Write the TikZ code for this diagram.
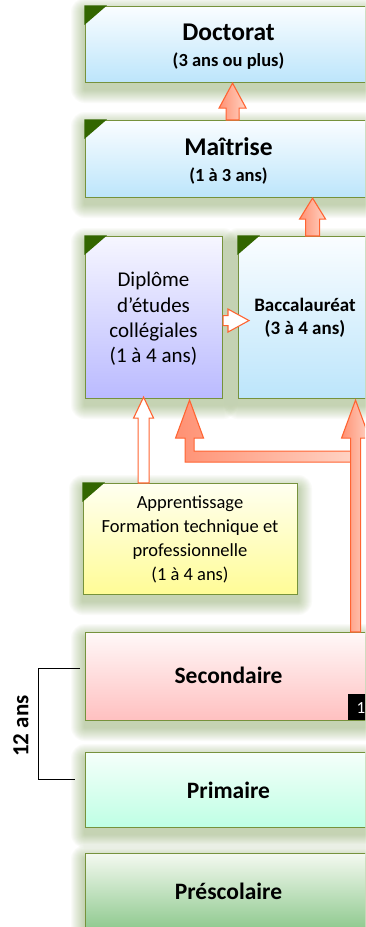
\documentclass[tikz,border=0pt]{standalone}
\usepackage{fontspec}
\setmainfont{Carlito}
\usetikzlibrary{calc}
\pgfdeclarelayer{bg}
\pgfsetlayers{bg,main}
\definecolor{bord}{RGB}{118,146,60}
\definecolor{cornerc}{RGB}{51,102,0}
\definecolor{shad}{RGB}{110,150,60}
\definecolor{aline}{RGB}{255,100,50}
\definecolor{afillA}{RGB}{255,145,115}
\definecolor{afillB}{RGB}{255,210,195}
\definecolor{blueT}{RGB}{250,253,255}
\definecolor{blueB}{RGB}{188,229,251}
\definecolor{lavT}{RGB}{246,246,255}
\definecolor{lavB}{RGB}{186,186,255}
\definecolor{yelT}{RGB}{255,255,240}
\definecolor{yelB}{RGB}{255,252,150}
\definecolor{pinkT}{RGB}{255,248,248}
\definecolor{pinkB}{RGB}{255,192,192}
\definecolor{mintT}{RGB}{245,255,250}
\definecolor{mintB}{RGB}{190,255,228}
\definecolor{grnT}{RGB}{244,249,240}
\definecolor{grnB}{RGB}{140,200,140}
\newcommand\blockup[6]{\draw[#1] let \p1=#2, \p2=#3 in
  (\x1,\y1) -- (\x1+#5pt,\y1-#6pt) -- (\x1+#4pt,\y1-#6pt) -- (\x1+#4pt,\y2)
  -- (\x1-#4pt,\y2) -- (\x1-#4pt,\y1-#6pt) -- (\x1-#5pt,\y1-#6pt) -- cycle;}
\begin{document}
\begin{tikzpicture}[x=1pt,y=-1pt,
  box/.style={draw=bord,line width=1.1pt,inner sep=0pt,anchor=north west},
  txt/.style={anchor=base,inner sep=0pt},
  oarrow/.style={draw=aline,line width=1.1pt,left color=afillA,right color=afillB},
  warrow/.style={draw=aline,line width=1.1pt,fill=white},
  fbig/.style={font=\fontsize{25.5}{30}\selectfont\bfseries},
  fsub/.style={font=\fontsize{18.5}{22}\selectfont\bfseries},
  flev/.style={font=\fontsize{23.5}{28}\selectfont\bfseries},
  fdip/.style={font=\fontsize{21}{25}\selectfont},
  fapp/.style={font=\fontsize{18.5}{22}\selectfont},
  fbac/.style={font=\fontsize{19}{23}\selectfont\bfseries}]
\useasboundingbox (0,0) rectangle (365,927);
\clip (0,0) rectangle (365,927);

% boxes
\node[box,top color=blueT,bottom color=blueB,minimum width=287pt,minimum height=76pt] (doc) at (85,6) {};
\node[box,top color=blueT,bottom color=blueB,minimum width=287pt,minimum height=77pt] (mai) at (85,120) {};
\node[box,top color=lavT,bottom color=lavB,minimum width=137pt,minimum height=162pt] (dip) at (85,236) {};
\node[box,top color=blueT,bottom color=blueB,minimum width=134pt,minimum height=162pt] (bac) at (238,236) {};
\node[box,top color=yelT,bottom color=yelB,minimum width=214pt,minimum height=111pt] (app) at (83,483) {};
\node[box,top color=pinkT,bottom color=pinkB,minimum width=287pt,minimum height=88pt] (sec) at (85,632) {};
\node[box,top color=mintT,bottom color=mintB,minimum width=287pt,minimum height=75pt] (pri) at (85,752) {};
\node[box,top color=grnT,bottom color=grnB,minimum width=287pt,minimum height=78pt] (pre) at (85,853) {};

% background and shadows
\begin{pgfonlayer}{bg}
\fill[white] (0,0) rectangle (365,927);
\foreach \n in {doc,mai,dip,bac,app,sec,pri,pre}{
  \foreach \k in {1,...,14}{
    \fill[shad,opacity=0.032,rounded corners=\k pt] ($(\n.north west)+(-\k,6-\k)$) rectangle ($(\n.south east)+(\k,6+\k)$);
  }}
\end{pgfonlayer}

% corner marks
\foreach \n in {doc,mai,dip,bac,app}{
  \fill[cornerc] ($(\n.north west)+(-0.55,-0.55)$) -- ++(22.5,0) -- ++(-22.5,19.5) -- cycle;}

% texts
\node[txt,fbig] (docT) at (228.5,40.7) {Doctorat};
\node[txt,fsub] (docS) at (228.5,66.7) {(3 ans ou plus)};
\node[txt,fbig] (maiT) at (228.5,155) {Maîtrise};
\node[txt,fsub] (maiS) at (228.5,181.7) {(1 à 3 ans)};
\foreach \t [count=\i] in {Diplôme,d’études,collégiales,(1 à 4 ans)}
  \node[txt,fdip] (dip\i) at (153.5,286.7+25.4*\i-25.4) {\t};
\node[txt,fbac] (bacT) at (305,311.7) {Baccalauréat};
\node[txt,fbac] (bacS) at (305,334.3) {(3 à 4 ans)};
\foreach \t [count=\i] in {Apprentissage,Formation technique et,professionnelle,(1 à 4 ans)}
  \node[txt,fapp] (app\i) at (190,508.3+23.9*\i-23.9) {\t};
\node[txt,flev] (secT) at (228.5,683.3) {Secondaire};
\node[txt,flev] (priT) at (228.5,798.3) {Primaire};
\node[txt,flev] (preT) at (228.5,899) {Préscolaire};

% page number box
\node[fill=black,anchor=north west,minimum width=30pt,minimum height=26pt,inner sep=0pt] (pg) at (348,694) {};
\node[txt,text=white,font=\fontsize{17}{20}\selectfont] (pgT) at (361,713) {1};

% bracket and label
\coordinate (bt) at ($(sec.west)+(-5,-8)$);
\coordinate (bb) at ($(pri.west)+(-10,-10.5)$);
\draw[line width=1pt] (bt) -- (bt -| 38,0) -- (bb -| 38,0) -- (bb);
\node[rotate=90,inner sep=0pt,font=\fontsize{23}{27}\selectfont\bfseries] (twelve) at (21,726) {12 ans};

% arrows
\blockup{oarrow}{($(doc.south)+(3.5,0)$)}{(mai.north)}{6.5}{13.5}{25}
\blockup{oarrow}{($(mai.south)+(83.5,0)$)}{(bac.north)}{7}{13}{21}
\blockup{warrow}{($(dip.south)+(-10.5,-2)$)}{(app.north)}{5.5}{10}{21}
\draw[warrow] let \p1=($(bac.west)+(11,3)$), \p2=(dip.east) in
  (\x1,\y1) -- (\x1-21pt,\y1+11.5pt) -- (\x1-21pt,\y1+5pt) -- (\x2,\y1+5pt)
  -- (\x2,\y1-5pt) -- (\x1-21pt,\y1-5pt) -- (\x1-21pt,\y1-11.5pt) -- cycle;
\draw[oarrow] let \p1=($(dip.south)+(35.5,1)$), \p2=($(bac.south)+(50,1)$) in
  (\x1,\y1) -- (\x1+14pt,\y1-38pt) -- (\x1+4.5pt,\y1-38pt) -- (\x1+4.5pt,\y1-51pt)
  -- (\x2-5pt,\y1-51pt) -- (\x2-5pt,\y1-62pt) -- (\x1-4.5pt,\y1-62pt)
  -- (\x1-4.5pt,\y1-38pt) -- (\x1-14pt,\y1-38pt) -- cycle;
\blockup{oarrow}{($(bac.south)+(50,1)$)}{(sec.north)}{5}{14}{38}
\end{tikzpicture}
\end{document}
